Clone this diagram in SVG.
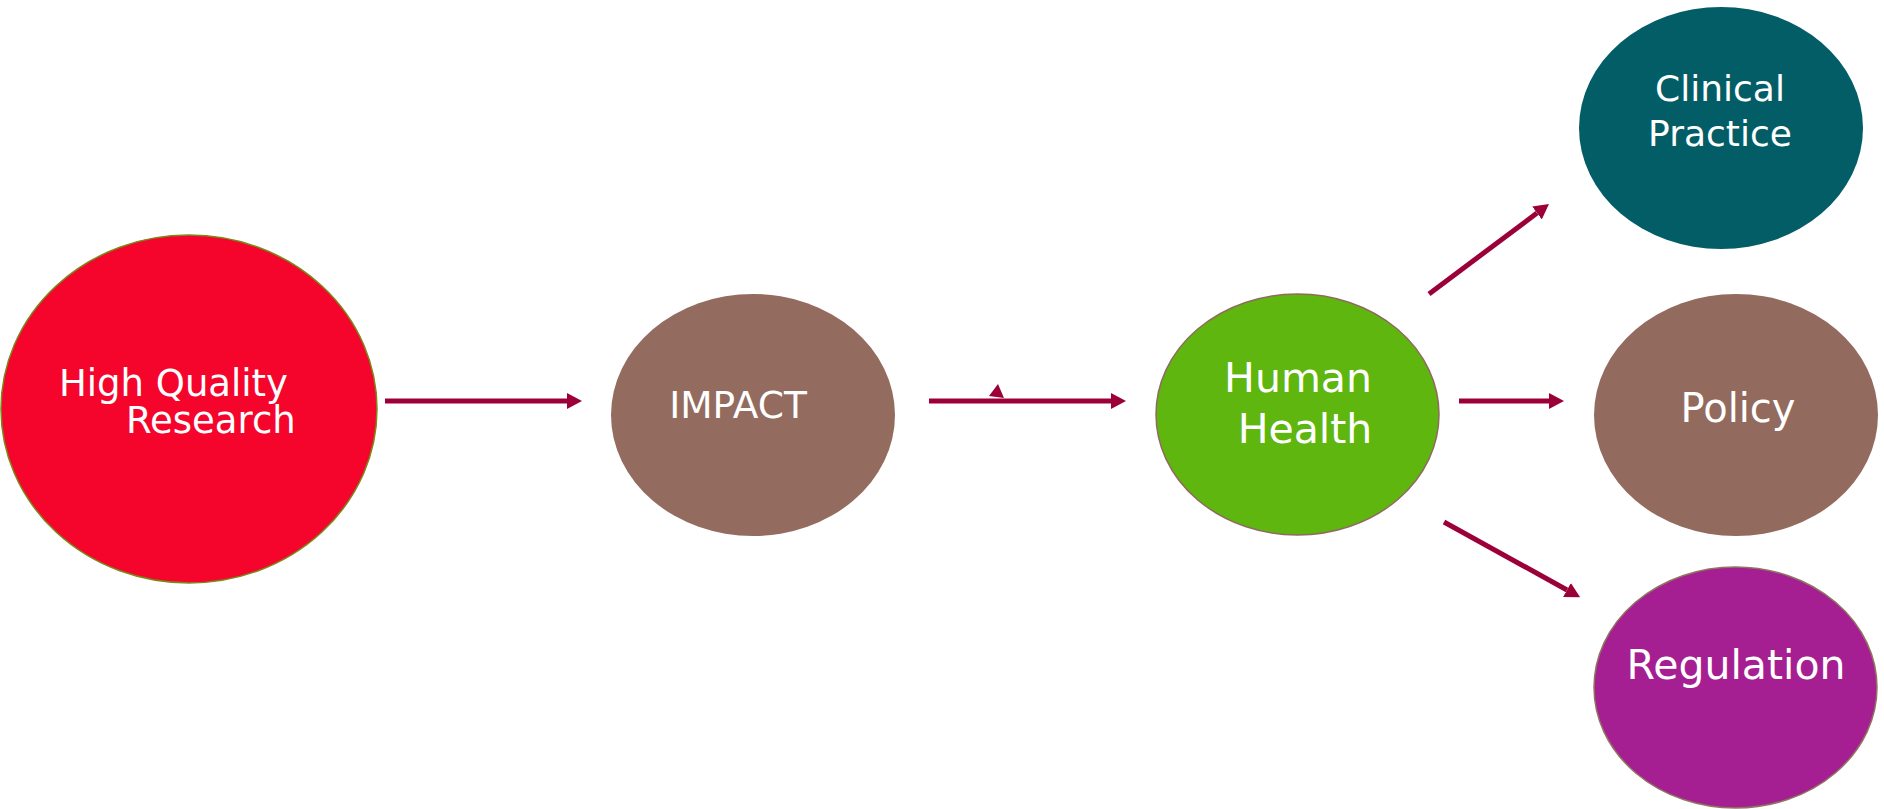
<svg xmlns="http://www.w3.org/2000/svg" width="1884" height="809" viewBox="0 0 1884 809">
<defs>
<style>
.lbl{font-family:"DejaVu Sans","Liberation Sans",sans-serif;fill:#ffffff}
.conn{stroke:#9B0038;stroke-width:5;fill:none}
</style>
<marker id="ah" viewBox="0 0 15 16" refX="0" refY="8" markerWidth="15" markerHeight="16" markerUnits="userSpaceOnUse" orient="auto">
<path d="M0,0 L15,8 L0,16 Z" fill="#9B0038"/>
</marker>
</defs>
<rect width="1884" height="809" fill="#ffffff"/>
<g id="connectors">
<path class="conn" d="M385,401 L567,401" marker-end="url(#ah)"/>
<path class="conn" d="M929,401 L1111,401" marker-end="url(#ah)"/>
<polygon points="989,396 998,384 1004,398" fill="#9B0038"/>
<path class="conn" d="M1429,294 L1537,213" marker-end="url(#ah)"/>
<path class="conn" d="M1459,401 L1549,401" marker-end="url(#ah)"/>
<path class="conn" d="M1444,522 L1567,590" marker-end="url(#ah)"/>
</g>
<g id="node-research">
<ellipse cx="189" cy="409" rx="188" ry="174" fill="#F5052B" stroke="#7A8A1A" stroke-width="1.5"/>
<text class="lbl" x="59" y="396" font-size="37">High Quality</text>
<text class="lbl" x="126" y="433" font-size="37">Research</text>
</g>
<g id="node-impact">
<ellipse cx="753" cy="415" rx="142" ry="121" fill="#936B5F"/>
<text class="lbl" x="738" y="418" font-size="37.5" text-anchor="middle">IMPACT</text>
</g>
<g id="node-health">
<ellipse cx="1297.5" cy="414.5" rx="141.5" ry="120.5" fill="#5EB60E" stroke="#8F6B5F" stroke-width="1.5"/>
<text class="lbl" x="1298" y="392" font-size="41" text-anchor="middle">Human</text>
<text class="lbl" x="1305" y="443" font-size="41" text-anchor="middle">Health</text>
</g>
<g id="node-clinical">
<ellipse cx="1721" cy="128" rx="142" ry="121" fill="#025D66"/>
<text class="lbl" x="1720" y="101" font-size="36" text-anchor="middle">Clinical</text>
<text class="lbl" x="1720" y="146" font-size="36" text-anchor="middle">Practice</text>
</g>
<g id="node-policy">
<ellipse cx="1736" cy="415" rx="142" ry="121" fill="#936A5E"/>
<text class="lbl" x="1738" y="422" font-size="40" text-anchor="middle">Policy</text>
</g>
<g id="node-regulation">
<ellipse cx="1735.5" cy="687.5" rx="141.5" ry="120.5" fill="#A51F92" stroke="#8F7560" stroke-width="1.5"/>
<text class="lbl" x="1736" y="679" font-size="41" text-anchor="middle">Regulation</text>
</g>
</svg>
